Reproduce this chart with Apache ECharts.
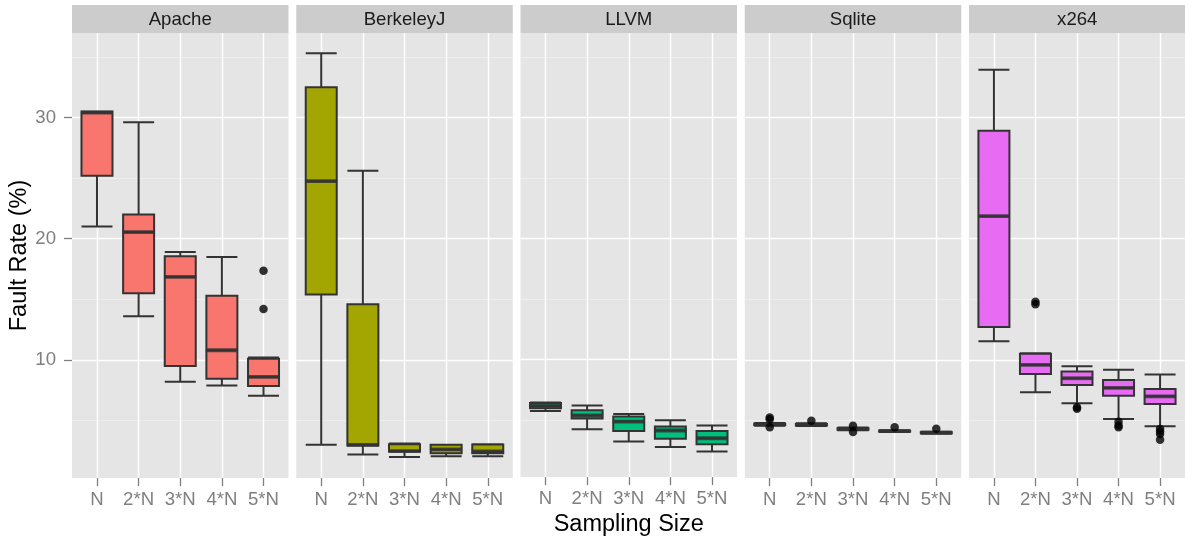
<!DOCTYPE html>
<html>
<head>
<meta charset="utf-8">
<script src="https://cdn.jsdelivr.net/npm/echarts@6/dist/echarts.min.js"></script>
<style>
html,body{margin:0;padding:0;background:#fff;}
#chart{width:1185px;height:542px;}
</style>
</head>
<body>
<div id="chart"></div>
<script>
// ---- data ----
const categories = ['N', '2*N', '3*N', '4*N', '5*N'];
const facets = ['Apache', 'BerkeleyJ', 'LLVM', 'Sqlite', 'x264'];
const yTickValues = [10, 20, 30];
const yMinorValues = [5, 15, 25, 35];

// [min, Q1, median, Q3, max] per category
const apacheBox = [
  [21.0, 25.2, 30.4, 30.5, 30.5],
  [13.6, 15.5, 20.55, 22.0, 29.6],
  [8.2, 9.5, 16.85, 18.55, 18.9],
  [7.9, 8.45, 10.8, 15.3, 18.5],
  [7.05, 7.85, 8.6, 10.1, 10.2]
];
const apacheOut = [[4, 17.35], [4, 14.2]];

const berkeleyBox = [
  [3.0, 15.4, 24.75, 32.5, 35.3],
  [2.2, 2.95, 3.0, 14.6, 25.6],
  [2.0, 2.45, 2.48, 3.05, 3.1],
  [2.05, 2.3, 2.62, 3.0, 3.0],
  [2.05, 2.3, 2.45, 3.02, 3.05]
];
const berkeleyOut = [];

const llvmBox = [
  [5.73, 5.95, 6.14, 6.38, 6.42],
  [4.21, 5.1, 5.35, 5.79, 6.17],
  [3.2, 4.08, 4.85, 5.26, 5.48],
  [2.75, 3.42, 4.11, 4.44, 4.96],
  [2.37, 2.98, 3.47, 4.08, 4.52]
];
const llvmOut = [];

const sqliteBox = [
  [4.58, 4.63, 4.68, 4.74, 4.80],
  [4.55, 4.60, 4.66, 4.72, 4.78],
  [4.20, 4.25, 4.30, 4.36, 4.42],
  [4.05, 4.09, 4.12, 4.16, 4.20],
  [3.92, 3.96, 4.00, 4.04, 4.08]
];
const sqliteOut = [[0, 5.25], [0, 5.1], [0, 4.45], [1, 4.98], [2, 4.58], [2, 4.05], [3, 4.45], [4, 4.32]];

const x264Box = [
  [11.54, 12.71, 21.86, 28.91, 33.94],
  [7.33, 8.84, 9.59, 10.51, 10.55],
  [6.42, 7.93, 8.49, 9.04, 9.48],
  [5.12, 7.05, 7.69, 8.35, 9.2],
  [4.52, 6.36, 7.0, 7.6, 8.79]
];
const x264Out = [[1, 14.8], [1, 14.6], [2, 6.1], [2, 5.98], [3, 4.9], [3, 4.6], [3, 4.44], [4, 4.3], [4, 4.1], [4, 3.88], [4, 3.41]];

const facetColors = ['#F8766D', '#A3A500', '#00BF7D', '#00B0F6', '#E76BF3'];
const boxSets = [apacheBox, berkeleyBox, llvmBox, sqliteBox, x264Box];
const outSets = [apacheOut, berkeleyOut, llvmOut, sqliteOut, x264Out];

// ---- layout ----
const FONT = '"Liberation Sans", Arial, sans-serif';
const panelLeft = [72, 296.25, 520.5, 744.75, 969];
const panelW = 216.5;
const panelTop = 33;
const panelH = 445;
const yMin = 0.26, yMax = 36.97;
const xMin = 0.4, xMax = 5.6;
const catPos = categories.map((c, i) => i + 1);

const grids = [], xAxes = [], yAxes = [], series = [], graphics = [];

facets.forEach((name, i) => {
  grids.push({
    left: panelLeft[i], top: panelTop, width: panelW, height: panelH,
    show: true, backgroundColor: '#E5E5E5', borderWidth: 0
  });
  xAxes.push({
    gridIndex: i, type: 'value', min: xMin, max: xMax,
    axisLine: { show: false },
    axisTick: { show: true, length: 8, customValues: catPos, lineStyle: { color: '#7F7F7F', width: 1.3 } },
    axisLabel: {
      show: true, customValues: catPos, margin: 12,
      formatter: v => categories[Math.round(v) - 1] || '',
      color: '#7F7F7F', fontSize: 18.6, fontFamily: FONT
    },
    splitLine: { show: false },
    name: i === 2 ? 'Sampling Size' : '',
    nameLocation: 'middle', nameGap: 34,
    nameTextStyle: { color: '#000', fontSize: 23.5, fontFamily: FONT }
  });
  yAxes.push({
    gridIndex: i, type: 'value', min: yMin, max: yMax,
    axisLine: { show: false },
    axisTick: { show: i === 0, length: 8, customValues: yTickValues, lineStyle: { color: '#7F7F7F', width: 1.3 } },
    axisLabel: { show: i === 0, customValues: yTickValues, margin: 16, color: '#7F7F7F', fontSize: 18.6, fontFamily: FONT },
    splitLine: { show: false },
    name: i === 0 ? 'Fault Rate (%)' : '',
    nameLocation: 'middle', nameRotate: 90, nameGap: 32,
    nameTextStyle: { color: '#000', fontSize: 23.5, fontFamily: FONT }
  });

  // grid lines (from tick value arrays)
  const ml = [];
  yMinorValues.forEach(v => ml.push({ yAxis: v, lineStyle: { color: '#F2F2F2', width: 0.7, type: 'solid' } }));
  yTickValues.forEach(v => ml.push({ yAxis: v, lineStyle: { color: '#FFFFFF', width: 1.4, type: 'solid' } }));
  catPos.forEach(v => ml.push({ xAxis: v, lineStyle: { color: '#FFFFFF', width: 1.4, type: 'solid' } }));
  series.push({
    type: 'line', xAxisIndex: i, yAxisIndex: i, data: [], silent: true,
    markLine: {
      z: 1, silent: true, symbol: ['none', 'none'], animation: false,
      label: { show: false }, emphasis: { disabled: true }, data: ml
    }
  });

  const box = boxSets[i];
  series.push({
    type: 'boxplot', xAxisIndex: i, yAxisIndex: i, z: 2,
    boxWidth: [31, 31], silent: true,
    itemStyle: { color: facetColors[i], borderColor: '#333333', borderWidth: 2 },
    emphasis: { disabled: true },
    data: box.map((b, k) => [k + 1].concat(b))
  });
  // thicker median segment (as in ggplot)
  series.push({
    type: 'scatter', xAxisIndex: i, yAxisIndex: i, z: 3, silent: true,
    symbol: 'rect', symbolSize: [32, 3.8],
    itemStyle: { color: '#333333' },
    data: box.map((b, k) => [k + 1, b[2]])
  });
  // outliers
  series.push({
    type: 'scatter', xAxisIndex: i, yAxisIndex: i, z: 4, silent: true,
    symbol: 'circle', symbolSize: 8.5,
    itemStyle: { color: '#000000' },
    data: outSets[i].map(o => [o[0] + 1, o[1]])
  });

  // facet strip
  graphics.push({
    type: 'rect', left: panelLeft[i], top: 5, silent: true,
    shape: { width: panelW, height: 28 }, style: { fill: '#CCCCCC' }
  });
  graphics.push({
    type: 'text', x: panelLeft[i] + panelW / 2, y: 20, silent: true,
    style: { text: name, fill: '#1A1A1A', font: '18.6px ' + FONT, align: 'center', verticalAlign: 'middle' }
  });
});

const chart = echarts.init(document.getElementById('chart'), null, { renderer: 'canvas' });
chart.setOption({
  animation: false,
  backgroundColor: '#FFFFFF',
  grid: grids,
  xAxis: xAxes,
  yAxis: yAxes,
  series: series,
  graphic: graphics
});
</script>
</body>
</html>
